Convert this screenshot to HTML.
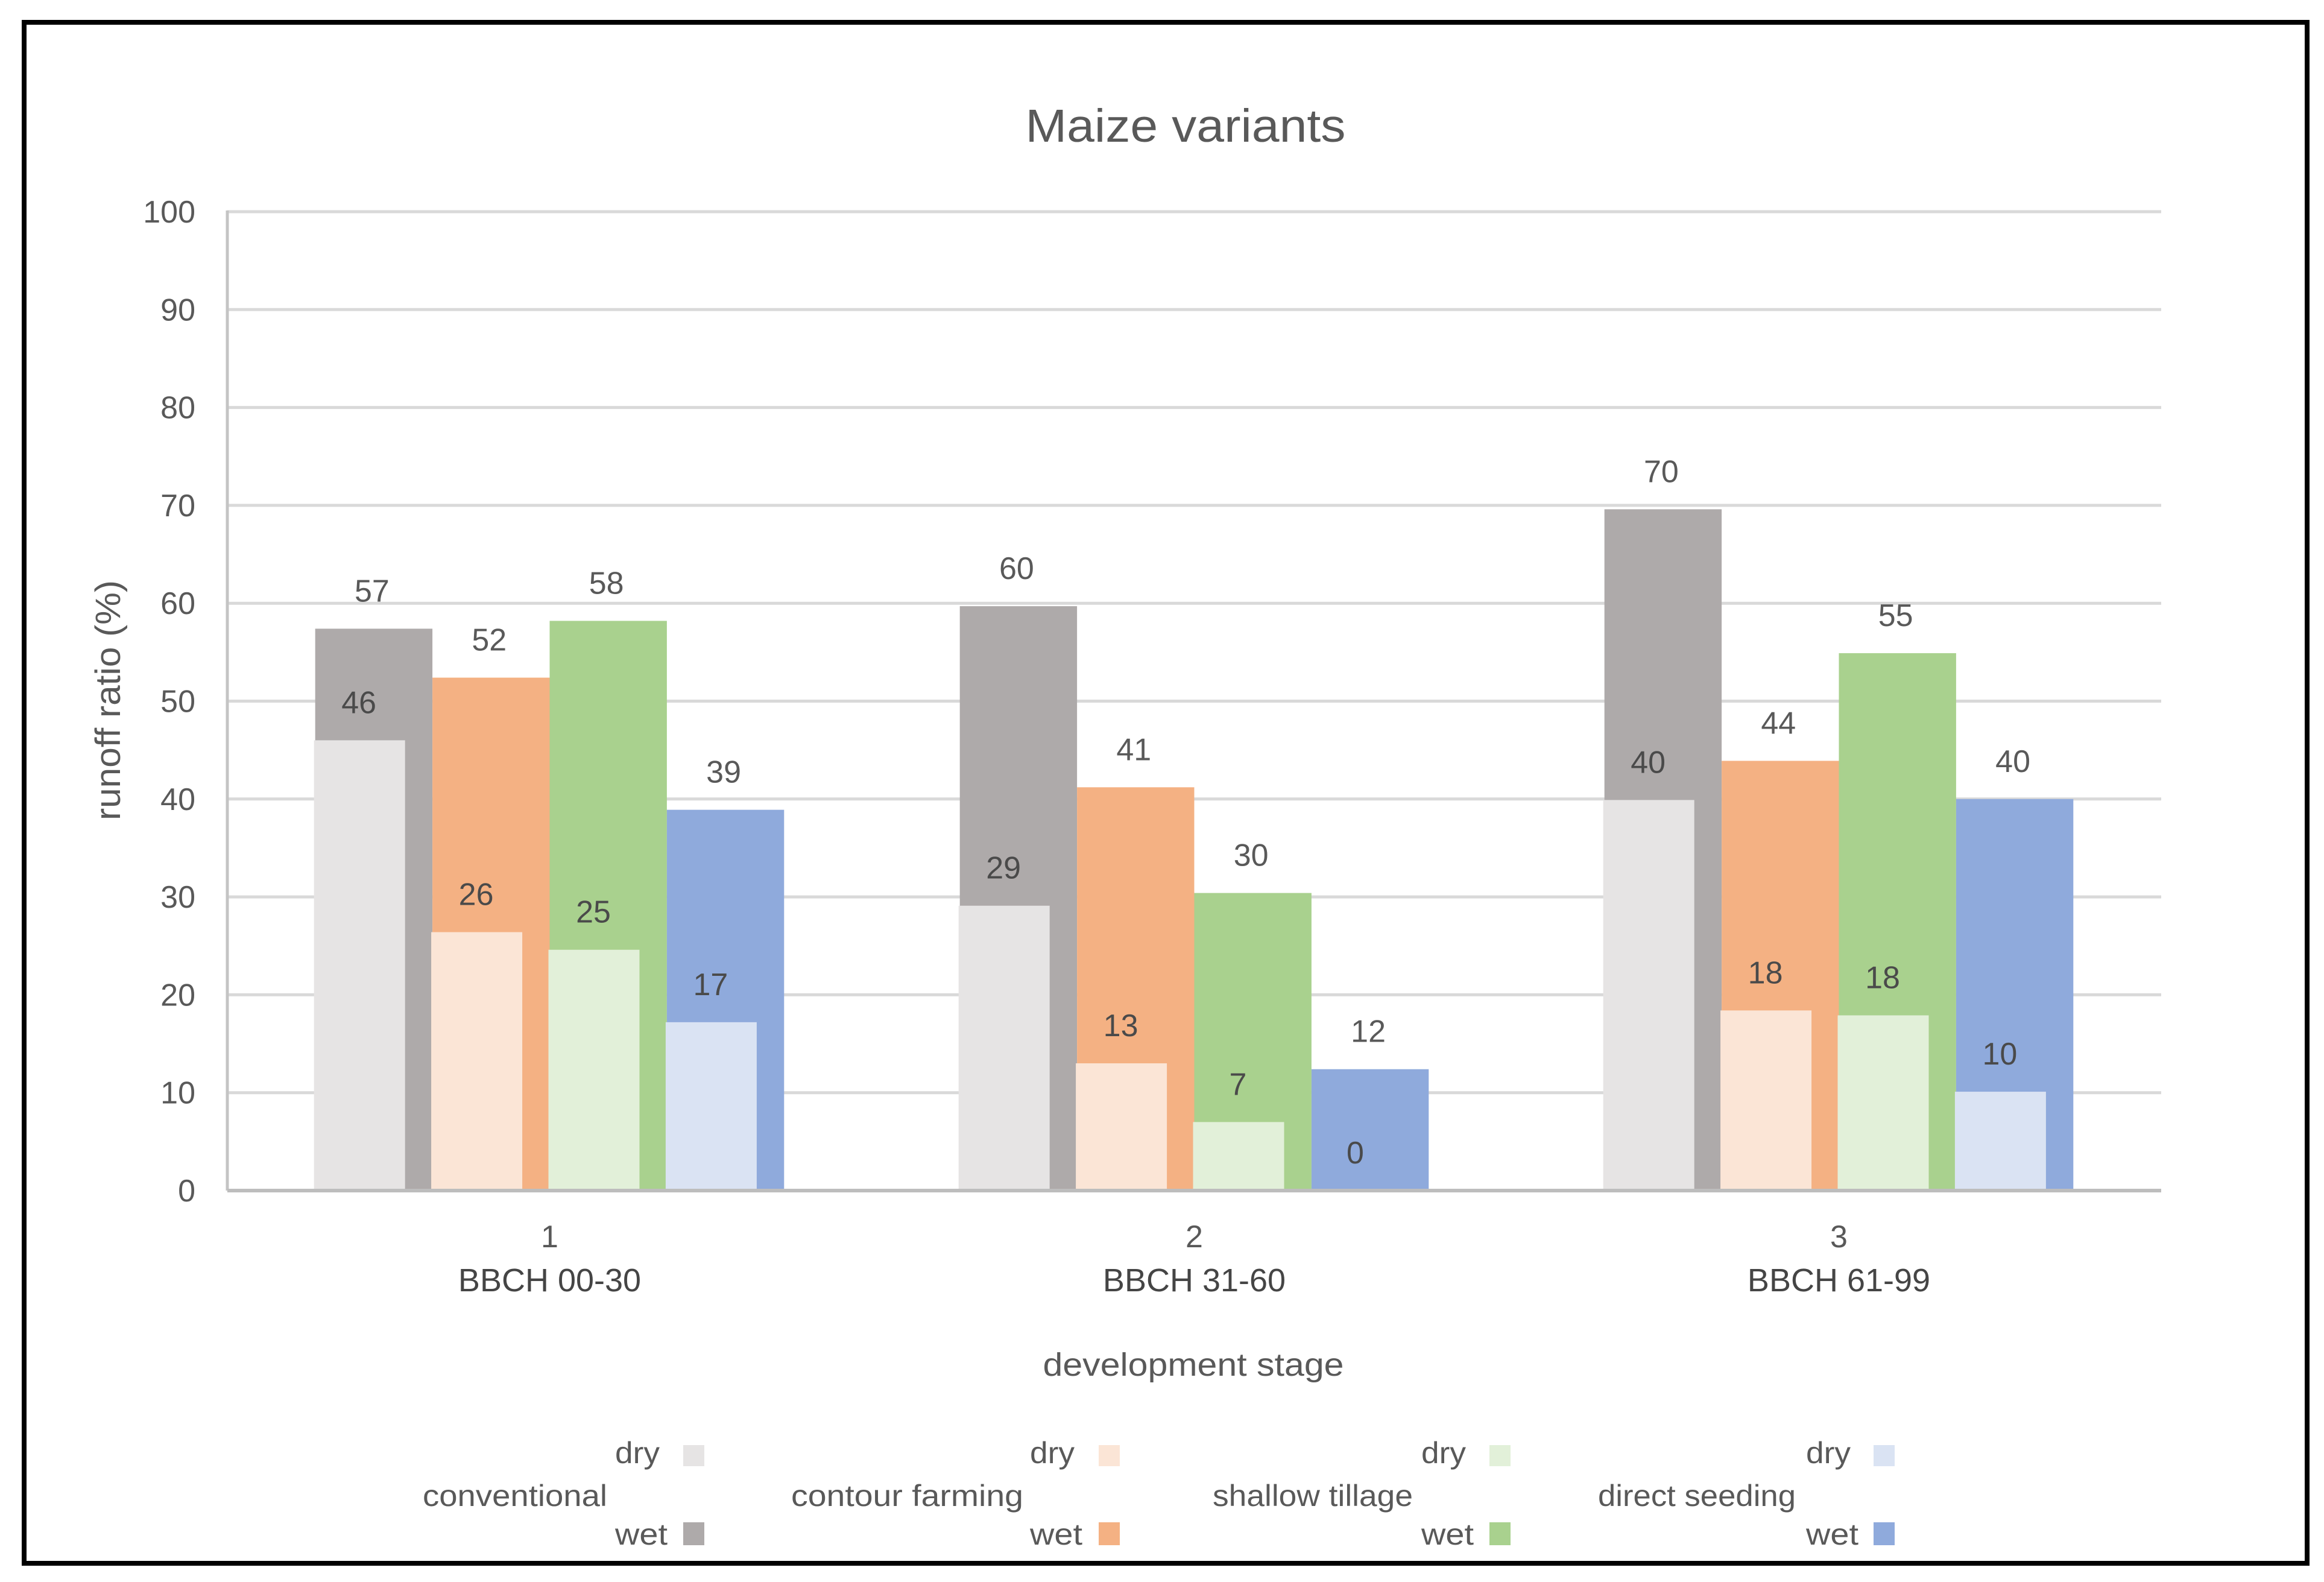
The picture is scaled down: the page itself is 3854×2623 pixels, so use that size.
<!DOCTYPE html>
<html lang="en">
<head>
<meta charset="utf-8">
<title>Maize variants</title>
<style>
  html, body { margin: 0; padding: 0; background: #fff; }
  svg { display: block; }
  text { font-family: "Liberation Sans", sans-serif; fill: #595959; }
</style>
</head>
<body>
<svg id="chart" xmlns="http://www.w3.org/2000/svg" width="3854" height="2623" viewBox="0 0 3854 2623">
  <rect x="0" y="0" width="3854" height="2623" fill="#fff"/>
  <rect x="40" y="37" width="3786" height="2555" fill="none" stroke="#000" stroke-width="8"/>
  <text x="1966" y="235" font-size="77" text-anchor="middle" textLength="531" lengthAdjust="spacingAndGlyphs">Maize variants</text>
  <text transform="translate(199,1161) rotate(-90)" font-size="58" text-anchor="middle" textLength="398" lengthAdjust="spacingAndGlyphs">runoff ratio (%)</text>
  <text x="1979" y="2281" font-size="54" text-anchor="middle" textLength="499" lengthAdjust="spacingAndGlyphs">development stage</text>
  <g id="grid"></g>
  <g id="bars"></g>
  <g id="axes"></g>
  <g id="labels"></g>
  <g font-size="50">
    <g>
      <text x="701" y="2497" textLength="306" lengthAdjust="spacingAndGlyphs">conventional</text>
      <text x="1020" y="2426" textLength="74" lengthAdjust="spacingAndGlyphs">dry</text>
      <rect x="1133" y="2396" width="35" height="35" fill="#e6e4e4"/>
      <text x="1020" y="2561" textLength="87" lengthAdjust="spacingAndGlyphs">wet</text>
      <rect x="1133" y="2524" width="35" height="38" fill="#aeaaaa"/>
    </g>
    <g>
      <text x="1312" y="2497" textLength="385" lengthAdjust="spacingAndGlyphs">contour farming</text>
      <text x="1708" y="2426" textLength="74" lengthAdjust="spacingAndGlyphs">dry</text>
      <rect x="1822" y="2396" width="35" height="35" fill="#fbe5d6"/>
      <text x="1708" y="2561" textLength="87" lengthAdjust="spacingAndGlyphs">wet</text>
      <rect x="1822" y="2524" width="35" height="38" fill="#f4b183"/>
    </g>
    <g>
      <text x="2011" y="2497" textLength="332" lengthAdjust="spacingAndGlyphs">shallow tillage</text>
      <text x="2357" y="2426" textLength="74" lengthAdjust="spacingAndGlyphs">dry</text>
      <rect x="2470" y="2396" width="35" height="35" fill="#e2f0d9"/>
      <text x="2357" y="2561" textLength="87" lengthAdjust="spacingAndGlyphs">wet</text>
      <rect x="2470" y="2524" width="35" height="38" fill="#a9d18e"/>
    </g>
    <g>
      <text x="2650" y="2497" textLength="328" lengthAdjust="spacingAndGlyphs">direct seeding</text>
      <text x="2995" y="2426" textLength="74" lengthAdjust="spacingAndGlyphs">dry</text>
      <rect x="3107" y="2396" width="35" height="35" fill="#dae3f3"/>
      <text x="2995" y="2561" textLength="87" lengthAdjust="spacingAndGlyphs">wet</text>
      <rect x="3107" y="2524" width="35" height="38" fill="#8faadc"/>
    </g>
  </g>
</svg>
<script>
// Chart data
const stageNumbers = ['1', '2', '3'];
const stageLabels = ['BBCH 00-30', 'BBCH 31-60', 'BBCH 61-99'];
const yTickValues = [0, 10, 20, 30, 40, 50, 60, 70, 80, 90, 100];
const seriesNames = ['conventional', 'contour-farming', 'shallow-tillage', 'direct-seeding'];
const wetConventional = [57.4, 59.7, 69.6];
const wetContour = [52.4, 41.2, 43.9];
const wetShallow = [58.2, 30.4, 54.9];
const wetDirect = [38.9, 12.4, 40.0];
const dryConventional = [46.0, 29.1, 39.9];
const dryContour = [26.4, 13.0, 18.4];
const dryShallow = [24.6, 7.0, 17.9];
const dryDirect = [17.2, 0.0, 10.1];

const wetSeries = [wetConventional, wetContour, wetShallow, wetDirect];
const drySeries = [dryConventional, dryContour, dryShallow, dryDirect];
const wetColors = ['#aeaaaa', '#f4b183', '#a9d18e', '#8faadc'];
const dryColors = ['#e6e4e4', '#fbe5d6', '#e2f0d9', '#dae3f3'];

const NS = 'http://www.w3.org/2000/svg';
const plotLeft = 377, plotRight = 3584, plotTop = 351, plotBottom = 1974;
const yMin = 0, yMax = 100;
const barWidth = 194.4, dryWidth = 151, dryOffset = -2;

function yScale(v) {
  return plotBottom - (v - yMin) / (yMax - yMin) * (plotBottom - plotTop);
}
function stageCenter(i) {
  return plotLeft + (plotRight - plotLeft) / stageNumbers.length * (i + 0.5);
}
function barLeft(i, s) {
  return stageCenter(i) - barWidth * seriesNames.length / 2 + barWidth * s;
}
function make(tag, attrs, parent, txt) {
  const el = document.createElementNS(NS, tag);
  Object.keys(attrs).forEach(function (k) { el.setAttribute(k, attrs[k]); });
  if (txt !== undefined) el.textContent = txt;
  parent.appendChild(el);
  return el;
}

const gridG = document.getElementById('grid');
const barsG = document.getElementById('bars');
const axesG = document.getElementById('axes');
const labelsG = document.getElementById('labels');

// gridlines and y ticks
yTickValues.forEach(function (t) {
  if (t !== yMin) {
    const line = make('line', { x1: plotLeft, x2: plotRight, y1: yScale(t), y2: yScale(t), stroke: '#d9d9d9', 'stroke-width': 5 }, gridG);
    
    
  }
  const tick = make('text', { x: 324, y: yScale(t) + 18, 'font-size': 52, 'text-anchor': 'end' }, axesG, String(t));
  
  
});

// bars: wet behind, dry in front
stageNumbers.forEach(function (stage, i) {
  seriesNames.forEach(function (name, s) {
    const wetVal = wetSeries[s][i];
    const wet = make('rect', { x: barLeft(i, s), y: yScale(wetVal), width: barWidth, height: yScale(0) - yScale(wetVal), fill: wetColors[s] }, barsG);
    
    
  });
  seriesNames.forEach(function (name, s) {
    const dryVal = drySeries[s][i];
    const dry = make('rect', { x: barLeft(i, s) + dryOffset, y: yScale(dryVal), width: dryWidth, height: yScale(0) - yScale(dryVal), fill: dryColors[s] }, barsG);
    
    
  });
  seriesNames.forEach(function (name, s) {
    const wetVal = wetSeries[s][i];
    const dryVal = drySeries[s][i];
    const wetLabel = make('text', { x: barLeft(i, s) + barWidth / 2 - 3, y: yScale(wetVal) - 45, 'font-size': 52, 'text-anchor': 'middle' }, labelsG, String(Math.round(wetVal)));
    
    
    const dryLabel = make('text', { x: barLeft(i, s) + dryOffset + dryWidth / 2 - 1, y: yScale(dryVal) - 45, 'font-size': 52, 'text-anchor': 'middle', style: 'fill:#4a4a4a' }, labelsG, String(Math.round(dryVal)));
    
    
  });
  const num = make('text', { x: stageCenter(i), y: 2068, 'font-size': 52, 'text-anchor': 'middle' }, axesG, stage);
  
  
  const lab = make('text', { x: stageCenter(i), y: 2141, 'font-size': 54, 'text-anchor': 'middle', style: 'fill:#454545' }, axesG, stageLabels[i]);
  
  
});

// axis lines
const yAxis = make('line', { x1: plotLeft, x2: plotLeft, y1: plotTop - 2, y2: plotBottom, stroke: '#c4c4c4', 'stroke-width': 5 }, axesG);


const xAxis = make('line', { x1: plotLeft, x2: plotRight, y1: plotBottom, y2: plotBottom, stroke: '#bdbdbd', 'stroke-width': 6 }, axesG);


</script>
</body>
</html>
